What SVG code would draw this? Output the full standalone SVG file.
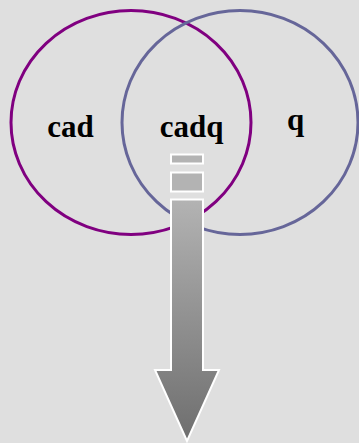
<svg xmlns="http://www.w3.org/2000/svg" width="359" height="443" viewBox="0 0 359 443">
<style>
.set{fill:none;stroke-width:3}
.lbl{font-family:"Liberation Serif","Times New Roman",serif;font-weight:bold;font-size:31px;fill:#000;text-anchor:middle}
.bar{stroke:#fff;stroke-width:2}
</style>
<defs>
<linearGradient id="g" x1="0" y1="0" x2="0" y2="1">
<stop offset="0" stop-color="#b3b3b3"/>
<stop offset="1" stop-color="#6e6e6e"/>
</linearGradient>
</defs>
<rect width="359" height="443" fill="#dfdfdf"/>
<g id="set-cad">
<ellipse class="set" cx="131" cy="122.5" rx="120" ry="112" stroke="#800080"/>
</g>
<g id="set-q">
<ellipse class="set" cx="240" cy="122.5" rx="118" ry="112" stroke="#666699"/>
</g>
<g id="labels">
<text class="lbl" x="70.5" y="137">cad</text>
<text class="lbl" x="191.5" y="137">cadq</text>
<text class="lbl" x="295.5" y="130">q</text>
</g>
<g id="connectors">
<rect class="bar" x="171" y="154.5" width="32" height="9" fill="#b3b3b3"/>
<rect class="bar" x="171" y="172.5" width="32" height="19" fill="#b3b3b3"/>
<path class="bar" d="M171,199.5 H203 V370 H219 L187,441 L155,370 H171 Z" fill="url(#g)"/>
</g>
</svg>
